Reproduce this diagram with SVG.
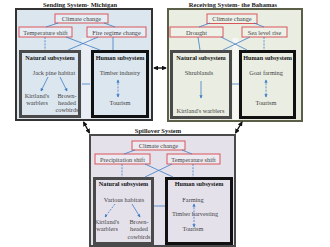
<svg xmlns="http://www.w3.org/2000/svg" width="330" height="247" viewBox="0 0 330 247">
<defs>
<marker id="bh" viewBox="0 0 6 6" refX="5" refY="3" markerWidth="4" markerHeight="4" orient="auto-start-reverse"><path d="M0,0L6,3L0,6z" fill="#3f7cc4"/></marker>
<marker id="kh" viewBox="0 0 6 6" refX="5" refY="3" markerWidth="3.5" markerHeight="3.5" orient="auto-start-reverse"><path d="M0,0L6,3L0,6z" fill="#111"/></marker>
</defs>
<style>
text{font-family:"Liberation Serif","Times New Roman",serif;fill:#444;font-size:6.3px;text-anchor:middle}
.ttl{font-weight:bold;fill:#222;font-size:6.5px}
.sub{font-weight:bold;fill:#111;font-size:6.2px}
.red{stroke:#d9565a;stroke-width:1}
.nat{fill:none;stroke:#4a4a4a;stroke-width:3}
.hum{fill:none;stroke:#111;stroke-width:3}
.c{stroke:#3f7cc4;stroke-width:0.8;fill:none}
.d{stroke-dasharray:2,1.2}
.k{stroke:#111;stroke-width:1.4;fill:none}
</style>
<rect width="330" height="247" fill="#fff"/>

<g id="michigan">
<text class="ttl" x="80" y="7">Sending System- Michigan</text>
<rect x="16" y="9" width="136" height="111" fill="#dce6ef" stroke="#333" stroke-width="2"/>
<rect x="81.5" y="38" width="9" height="81" fill="#e8eef4"/>
<g id="m-climate"><rect class="red" x="55" y="14" width="53" height="9" fill="#e6edf4"/><text x="81.5" y="21">Climate change</text></g>
<g id="m-temp"><rect class="red" x="19" y="27" width="53" height="10" fill="#e6edf4"/><text x="45.5" y="34.5">Temperature shift</text></g>
<g id="m-fire"><rect class="red" x="87" y="27" width="59" height="10" fill="#e6edf4"/><text x="116.5" y="34.5">Fire regime change</text></g>
<g id="m-natural"><rect class="nat" x="20.5" y="51.5" width="59" height="65" fill="#dce6ef"/>
<text class="sub" x="50" y="59.5">Natural subsystem</text>
<text x="54" y="74.5">Jack pine habitat</text>
<text x="37" y="98">Kirtland's</text><text x="37" y="105">warblers</text>
<text x="67" y="98">Brown-</text><text x="67" y="105">headed</text><text x="67" y="112">cowbirds</text></g>
<g id="m-human"><rect class="hum" x="92.5" y="51.5" width="55" height="65"/>
<text class="sub" x="120" y="59.5">Human subsystem</text>
<text x="120" y="74.5">Timber industry</text>
<text x="120" y="105">Tourism</text></g>
</g>

<g id="bahamas">
<text class="ttl" x="233" y="7">Receiving System- the Bahamas</text>
<rect x="168" y="9" width="134" height="112" fill="#e9ede2" stroke="#5c5f48" stroke-width="2"/>
<rect x="232.5" y="38" width="6" height="82" fill="#f6f7f2"/>
<g id="b-climate"><rect class="red" x="207" y="14" width="50" height="9.5" fill="#eef1e8"/><text x="232" y="21">Climate change</text></g>
<g id="b-drought"><rect class="red" x="170" y="27" width="53" height="10" fill="#eef1e8"/><text x="196.5" y="34.5">Drought</text></g>
<g id="b-sea"><rect class="red" x="242" y="27" width="45" height="10" fill="#eef1e8"/><text x="264.5" y="34.5">Sea level rise</text></g>
<g id="b-natural"><rect class="nat" x="171.5" y="51.5" width="59" height="66" fill="#e9ede2"/>
<text class="sub" x="201" y="59.5">Natural subsystem</text>
<text x="199" y="74.5">Shrublands</text>
<text x="200.5" y="113">Kirtland's warblers</text></g>
<g id="b-human"><rect class="hum" x="240.5" y="51.5" width="54" height="66"/>
<text class="sub" x="267.5" y="59.5">Human subsystem</text>
<text x="266" y="74.5">Goat farming</text>
<text x="266" y="105">Tourism</text></g>
</g>

<g id="spillover">
<text class="ttl" x="158" y="133">Spillover System</text>
<rect x="90" y="135" width="145" height="111" fill="#e5e1eb" stroke="#4a4a4a" stroke-width="2"/>
<g id="s-climate"><rect class="red" x="132" y="141" width="53" height="9" fill="#ece9f0"/><text x="158.5" y="148">Climate change</text></g>
<g id="s-precip"><rect class="red" x="95" y="154" width="55" height="10" fill="#ece9f0"/><text x="122.5" y="161.5">Precipitation shift</text></g>
<g id="s-temp"><rect class="red" x="167" y="154" width="53" height="10" fill="#ece9f0"/><text x="193.5" y="161.5">Temperature shift</text></g>
<g id="s-natural"><rect class="nat" x="94.5" y="178.5" width="58" height="65"/>
<text class="sub" x="123.5" y="186">Natural subsystem</text>
<text x="124" y="201.5">Various habitats</text>
<text x="107" y="224">Kirtland's</text><text x="107" y="231">warblers</text>
<text x="139" y="224">Brown-</text><text x="139" y="231">headed</text><text x="139" y="238.5">cowbirds</text></g>
<g id="s-human"><rect class="hum" x="166.5" y="178.5" width="65" height="65"/>
<text class="sub" x="199" y="186">Human subsystem</text>
<text x="193" y="201.5">Farming</text>
<text x="195" y="216">Timber harvesting</text>
<text x="193" y="231">Tourism</text></g>
</g>

<g id="connectors">
<line class="c" x1="58" y1="23" x2="46" y2="27"/>
<line class="c" x1="104" y1="23" x2="115" y2="27"/>
<line class="c d" x1="45" y1="37" x2="45" y2="50"/>
<line class="c" x1="113" y1="37" x2="113" y2="50"/>
<line class="c" x1="66" y1="37" x2="100" y2="50"/>
<line class="c" x1="98" y1="37" x2="68" y2="50"/>
<line class="c" x1="48" y1="77" x2="41" y2="91" marker-end="url(#bh)"/>
<line class="c" x1="60" y1="77" x2="67" y2="91" marker-end="url(#bh)"/>
<line class="c d" x1="118" y1="80" x2="118" y2="97" marker-start="url(#bh)" marker-end="url(#bh)"/>
<line class="c" x1="82" y1="84" x2="90" y2="84"/>
<line class="c" x1="210" y1="23" x2="199" y2="27"/>
<line class="c" x1="254" y1="23" x2="264" y2="27"/>
<line class="c" x1="198" y1="37" x2="200" y2="50"/>
<line class="c d" x1="264" y1="37" x2="264" y2="50"/>
<line class="c" x1="221" y1="37" x2="247" y2="50"/>
<line class="c" x1="250" y1="37" x2="223" y2="50"/>
<line class="c" x1="201" y1="81" x2="201" y2="98" marker-end="url(#bh)"/>
<line class="c d" x1="266" y1="80" x2="266" y2="97" marker-start="url(#bh)" marker-end="url(#bh)"/>
<line class="c" x1="232" y1="84" x2="239" y2="84"/>
<line class="c" x1="135" y1="150" x2="124" y2="154"/>
<line class="c" x1="182" y1="150" x2="192" y2="154"/>
<line class="c d" x1="122" y1="164" x2="122" y2="177"/>
<line class="c d" x1="193" y1="164" x2="193" y2="177"/>
<line class="c" x1="145" y1="164" x2="173" y2="177"/>
<line class="c" x1="172" y1="164" x2="145" y2="177"/>
<line class="c d" x1="115" y1="204" x2="105" y2="217" marker-end="url(#bh)"/>
<line class="c" x1="132" y1="204" x2="140" y2="217" marker-end="url(#bh)"/>
<line class="c d" x1="194" y1="204" x2="194" y2="227" marker-start="url(#bh)" marker-end="url(#bh)"/>
<line class="c" x1="154" y1="206" x2="165" y2="206"/>
<line class="k" x1="154" y1="68" x2="166" y2="68" marker-start="url(#kh)" marker-end="url(#kh)"/>
<line class="k" x1="83.5" y1="122" x2="89.5" y2="133" marker-start="url(#kh)" marker-end="url(#kh)"/>
<line class="k" x1="242" y1="122" x2="235.5" y2="133" marker-start="url(#kh)" marker-end="url(#kh)"/>
</g>
</svg>
